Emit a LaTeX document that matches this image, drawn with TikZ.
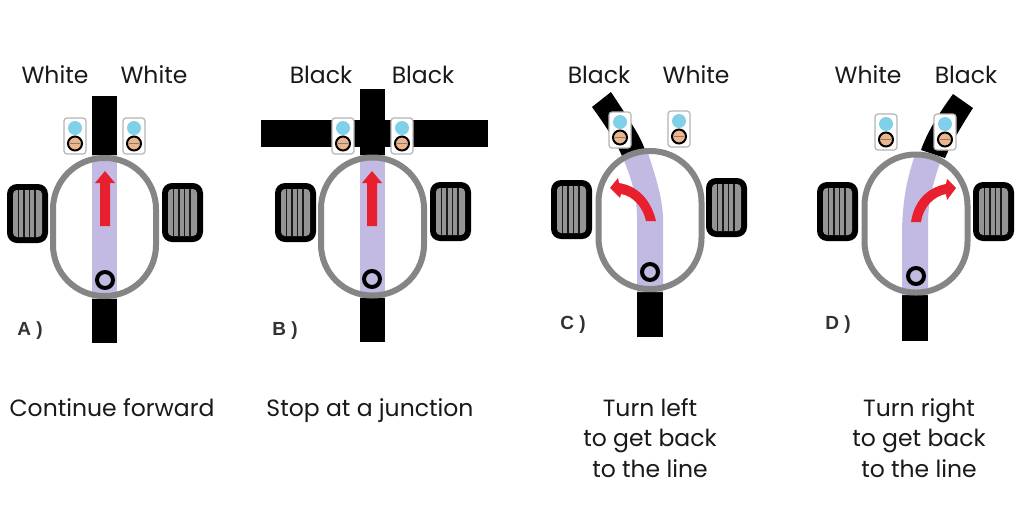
\documentclass[tikz,border=0pt]{standalone}
\usepackage{fontspec}
\setmainfont{Poppins}
\newfontfamily\tagfont{Liberation Sans}
\definecolor{lav}{HTML}{C2BAE2}
\definecolor{gbody}{HTML}{858585}
\definecolor{redar}{HTML}{E8202E}
\definecolor{sblue}{HTML}{80D0EA}
\definecolor{sbrown}{HTML}{EDB58C}
\definecolor{sgray}{HTML}{B5B5B5}
\tikzset{
  txt/.style={font=\fontsize{23.5}{30.5}\selectfont,text=black!90,align=center,inner sep=0pt,anchor=base},
  tag/.style={font=\tagfont\bfseries\fontsize{19}{21}\selectfont,text=black!80,inner sep=0pt,anchor=base},
  linepart/.style={fill=black,draw=none},
  lavpart/.style={fill=lav,draw=none},
  bodyshape/.style={draw=gbody,line width=6pt,rounded corners=51pt},
  redarrow/.style={fill=redar,draw=none},
}
% #1 centre x, #2 centre y
\newcommand{\robotbody}[2]{\draw[bodyshape] ({#1-51.5},{#2-69}) rectangle ({#1+51.5},{#2+69});}
% #1 left x, #2 top y
\newcommand{\wheelbox}[2]{
  \fill[black,rounded corners=10pt] (#1,#2) rectangle ({#1+41},{#2+59});
  \fill[black!42,rounded corners=4pt] ({#1+6},{#2+6}) rectangle ({#1+35},{#2+53});
  \foreach \k in {11.5,17,22.5,28}{\fill[black!90] ({#1+\k-0.9},{#2+6}) rectangle ({#1+\k+0.9},{#2+53});}
}
% #1 left x, #2 top y
\newcommand{\sensorbox}[2]{
  \draw[sgray,line width=1.2pt,fill=white,rounded corners=3pt] (#1,#2) rectangle ({#1+22},{#2+36});
  \fill[sblue] ({#1+11},{#2+10}) circle (7pt);
  \draw[black,line width=2pt,fill=sbrown] ({#1+11},{#2+25.5}) circle (7pt);
  \draw[black!50,line width=0.6pt] ({#1+6},{#2+25.5}) -- ({#1+16},{#2+25.5});
}
\newcommand{\pivot}[2]{\draw[black,line width=4pt] (#1,#2) circle (8pt);}
\newcommand{\straightarrow}[1]{
  \fill[redarrow] ({#1-5},226) -- ({#1-5},183) -- ({#1-10},183) -- (#1,171) -- ({#1+10},183) -- ({#1+5},183) -- ({#1+5},226) -- cycle;
}
\begin{document}
\begin{tikzpicture}[x=1pt,y=-1pt]
\useasboundingbox (0,0) rectangle (1020,528);
\fill[white] (0,0) rectangle (1020,528);

% ---- A
\fill[linepart] (92,96) rectangle (117,343);
\fill[lavpart] (92,155) rectangle (117,299);
\robotbody{104.5}{227}
\wheelbox{7}{184}
\wheelbox{162}{183}
\sensorbox{64}{118}
\sensorbox{123}{118}
\straightarrow{105}
\pivot{105}{280}
\node[txt] (a1) at (55,83) {White};
\node[txt] (a2) at (154,83) {White};
\node[tag] (a3) at (30,335) {A )};
\node[txt] (a4) at (112,416) {Continue forward};

% ---- B
\fill[linepart] (360,89) rectangle (385,342);
\fill[linepart] (261,120) rectangle (488,147);
\fill[lavpart] (360,155) rectangle (385,298);
\robotbody{372.5}{226.5}
\wheelbox{275}{183}
\wheelbox{430}{182}
\sensorbox{332}{118}
\sensorbox{391}{118}
\straightarrow{372}
\pivot{372}{279}
\node[txt] (b1) at (321,83) {Black};
\node[txt] (b2) at (423,83) {Black};
\node[tag] (b3) at (285,335) {B )};
\node[txt] (b4) at (370,416) {Stop at a junction};

% ---- C
\fill[linepart] (637,292) rectangle (663,337);
\fill[linepart] (592,107) -- (611,92) .. controls (628,118) and (640,135) .. (645,150) -- (622,156) .. controls (615,140) and (605,125) .. cycle;
\fill[lavpart] (623,158) .. controls (630,175) and (637,195) .. (637,217) -- (637,292) -- (663,292) -- (663,217) .. controls (662,195) and (655,175) .. (648,153) -- cycle;
\robotbody{650}{220}
\wheelbox{551}{180}
\wheelbox{706}{178}
\sensorbox{609}{112}
\sensorbox{668}{111}
\fill[redarrow] (646,221) .. controls (643,207) and (633,196) .. (621,194) -- (620,198) -- (610,188) -- (618,178) -- (619,183) .. controls (638,186) and (651,200) .. (656,221) -- cycle;
\pivot{650}{272}
\node[txt] (c1) at (599,83) {Black};
\node[txt] (c2) at (696,83) {White};
\node[tag] (c3) at (573,329) {C )};
\node[txt] (c4) at (650,477) {Turn left\\to get back\\to the line};

% ---- D
\fill[linepart] (902,295) rectangle (928,341);
\fill[linepart] (953,94) -- (973,108) .. controls (962,125) and (952,142) .. (945,158) -- (921,150) .. controls (928,130) and (940,112) .. cycle;
\fill[lavpart] (915,155) .. controls (908,175) and (902,200) .. (902,235) -- (902,295) -- (928,295) -- (928,222) .. controls (928,200) and (934,180) .. (941,160) -- cycle;
\robotbody{916}{223.5}
\wheelbox{817}{182}
\wheelbox{973}{182}
\sensorbox{875}{114}
\sensorbox{934}{114}
\fill[redarrow] (911,222) .. controls (914,202) and (926,188) .. (946,184) -- (947,179) -- (956,188) -- (947,200) -- (946,194) .. controls (934,196) and (923,207) .. (921,222) -- cycle;
\pivot{916}{276}
\node[txt] (d1) at (868,83) {White};
\node[txt] (d2) at (966,83) {Black};
\node[tag] (d3) at (838,329) {D )};
\node[txt] (d4) at (919,477) {Turn right\\to get back\\to the line};
\end{tikzpicture}
\end{document}
